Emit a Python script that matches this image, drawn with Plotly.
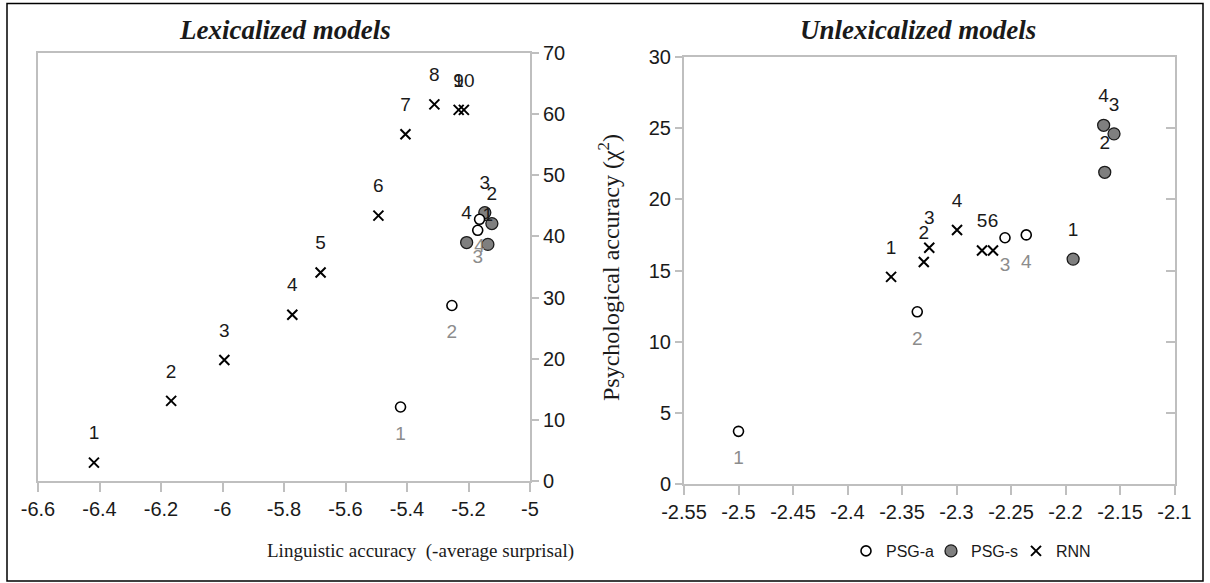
import plotly.graph_objects as go

# ---------------- data ----------------
# Lexicalized models (left panel)
lex_psga_x = [-5.421, -5.254, -5.170, -5.164]
lex_psga_y = [12.1, 28.7, 41.0, 42.8]
lex_psga_lbl = ["1", "2", "3", "4"]
lex_psgs_x = [-5.137, -5.124, -5.147, -5.206]
lex_psgs_y = [38.7, 42.1, 43.9, 39.0]
lex_psgs_lbl = ["1", "2", "3", "4"]
lex_rnn_x = [-6.418, -6.167, -5.994, -5.773, -5.681, -5.493, -5.405, -5.311, -5.232, -5.215]
lex_rnn_y = [3.0, 13.1, 19.8, 27.2, 34.1, 43.4, 56.7, 61.6, 60.7, 60.7]
lex_rnn_lbl = ["1", "2", "3", "4", "5", "6", "7", "8", "9", "10"]

# Unlexicalized models (right panel)
unl_psga_x = [-2.500, -2.336, -2.2555, -2.236]
unl_psga_y = [3.7, 12.1, 17.3, 17.5]
unl_psga_lbl = ["1", "2", "3", "4"]
unl_psgs_x = [-2.193, -2.164, -2.1555, -2.165]
unl_psgs_y = [15.8, 21.9, 24.6, 25.2]
unl_psgs_lbl = ["1", "2", "3", "4"]
unl_rnn_x = [-2.360, -2.330, -2.325, -2.2995, -2.2766, -2.2665]
unl_rnn_y = [14.55, 15.6, 16.6, 17.85, 16.4, 16.4]
unl_rnn_lbl = ["1", "2", "3", "4", "5", "6"]

# ticks
lex_xticks = [-6.6, -6.4, -6.2, -6.0, -5.8, -5.6, -5.4, -5.2, -5.0]
lex_xtick_text = ["-6.6", "-6.4", "-6.2", "-6", "-5.8", "-5.6", "-5.4", "-5.2", "-5"]
lex_yticks = [0, 10, 20, 30, 40, 50, 60, 70]
unl_xticks = [-2.55, -2.5, -2.45, -2.4, -2.35, -2.3, -2.25, -2.2, -2.15, -2.1]
unl_xtick_text = ["-2.55", "-2.5", "-2.45", "-2.4", "-2.35", "-2.3", "-2.25", "-2.2", "-2.15", "-2.1"]
unl_yticks = [0, 5, 10, 15, 20, 25, 30]

# ---------------- styles ----------------
W, H = 1210, 583
SANS = "Liberation Sans, Arial, sans-serif"
SERIF = "Liberation Serif, Times New Roman, serif"
DARK = "#1a1a1a"
GRAY_LBL = "#8c8c8c"
AXIS = "#bfbfbf"
FS = 20
LFS = 19
LBL_PAD = 28  # invisible marker size used to push the data labels away from the points

psga_marker = dict(symbol="circle", size=10, color="white", line=dict(color="black", width=1.6))
psgs_marker = dict(symbol="circle", size=12, color="#7f7f7f", line=dict(color="#1a1a1a", width=1.3))
rnn_marker = dict(symbol="x-thin", size=10, color="black", line=dict(color="black", width=2))

fig = go.Figure()

def add_series(xa, ya, xs, ys, lbls, marker, name, rank, show, pos, color):
    fig.add_trace(go.Scatter(x=xs, y=ys, mode="markers", marker=marker, name=name,
                             legendrank=rank, showlegend=show, xaxis=xa, yaxis=ya, cliponaxis=False))
    fig.add_trace(go.Scatter(x=xs, y=ys, text=lbls, mode="markers+text", textposition=pos,
                             textfont=dict(family=SANS, size=LFS, color=color),
                             marker=dict(size=LBL_PAD, color="rgba(0,0,0,0)", line=dict(width=0)),
                             showlegend=False, hoverinfo="skip", xaxis=xa, yaxis=ya, cliponaxis=False))

def add_panel(xa, ya, psga, psgs, rnn, show):
    add_series(xa, ya, *psgs, psgs_marker, "PSG-s", 2, show, "top center", DARK)
    add_series(xa, ya, *psga, psga_marker, "PSG-a", 1, show, "bottom center", GRAY_LBL)
    add_series(xa, ya, *rnn, rnn_marker, "RNN", 3, show, "top center", DARK)

add_panel("x", "y",
          (lex_psga_x, lex_psga_y, lex_psga_lbl),
          (lex_psgs_x, lex_psgs_y, lex_psgs_lbl),
          (lex_rnn_x, lex_rnn_y, lex_rnn_lbl), True)
add_panel("x2", "y2",
          (unl_psga_x, unl_psga_y, unl_psga_lbl),
          (unl_psgs_x, unl_psgs_y, unl_psgs_lbl),
          (unl_rnn_x, unl_rnn_y, unl_rnn_lbl), False)
# empty trace to activate the mirrored right axis of the right panel
fig.add_trace(go.Scatter(x=[], y=[], xaxis="x2", yaxis="y3", showlegend=False, hoverinfo="skip"))

tickfont = dict(family=SANS, size=FS, color=DARK)
common = dict(showgrid=False, zeroline=False, showline=True, linecolor=AXIS, linewidth=2,
              tickcolor=AXIS, tickwidth=2, tickfont=tickfont, automargin=False, fixedrange=True)

fig.update_layout(
    width=W, height=H, template="none",
    margin=dict(l=0, r=0, t=0, b=0, autoexpand=False),
    paper_bgcolor="white", plot_bgcolor="white",
    xaxis=dict(domain=[38 / W, 530 / W], range=[-6.6, -5.0], anchor="y",
               tickmode="array", tickvals=lex_xticks, ticktext=lex_xtick_text,
               ticks="outside", ticklen=9, mirror=True, **common),
    yaxis=dict(domain=[1 - 481 / H, 1 - 53 / H], range=[0, 70], anchor="x", side="right",
               tickmode="array", tickvals=lex_yticks, ticks="outside", ticklen=7, mirror=True, **common),
    xaxis2=dict(domain=[684 / W, 1174.5 / W], range=[-2.55, -2.1], anchor="y2",
                tickmode="array", tickvals=unl_xticks, ticktext=unl_xtick_text,
                ticks="outside", ticklen=9, mirror=True, **common),
    yaxis2=dict(domain=[1 - 484 / H, 1 - 57 / H], range=[0, 30], anchor="x2",
                tickmode="array", tickvals=unl_yticks, ticks="outside", ticklen=7, **common),
    yaxis3=dict(range=[0, 30], overlaying="y2", anchor="x2", side="right",
                tickmode="array", tickvals=unl_yticks, ticks="inside", ticklen=9,
                showticklabels=False, **common),
    legend=dict(orientation="h", x=846 / W, xanchor="left", y=1 - 551 / H, yanchor="middle",
                font=dict(family=SANS, size=16, color=DARK), bgcolor="rgba(0,0,0,0)",
                itemwidth=30, traceorder="normal", entrywidth=40, entrywidthmode="pixels"),
    showlegend=True,
)

ann = [
    dict(text="<b><i>Lexicalized models</i></b>", x=285 / W, y=1 - 30 / H,
         font=dict(family=SERIF, size=27, color=DARK)),
    dict(text="<b><i>Unlexicalized models</i></b>", x=918 / W, y=1 - 30 / H,
         font=dict(family=SERIF, size=27, color=DARK)),
    dict(text="Linguistic accuracy  (-average surprisal)", x=420 / W, y=1 - 551 / H,
         font=dict(family=SERIF, size=19, color=DARK)),
    dict(text="Psychological accuracy (χ<sup>2</sup>)", x=609 / W, y=1 - 268 / H, textangle=-90,
         font=dict(family=SERIF, size=24, color=DARK)),
]
for a in ann:
    a.update(xref="paper", yref="paper", showarrow=False, xanchor="center", yanchor="middle")
fig.update_layout(annotations=ann)

# outer frame
fig.add_shape(type="rect", xref="paper", yref="paper",
              x0=7 / W, x1=1203 / W, y0=1 - 581 / H, y1=1 - 3.5 / H,
              line=dict(color="black", width=1.5), fillcolor="rgba(0,0,0,0)", layer="below")

fig.write_html("out.html", config={"displayModeBar": False, "staticPlot": True},
               post_script="document.body.style.margin='0';document.documentElement.style.overflow='hidden';")
